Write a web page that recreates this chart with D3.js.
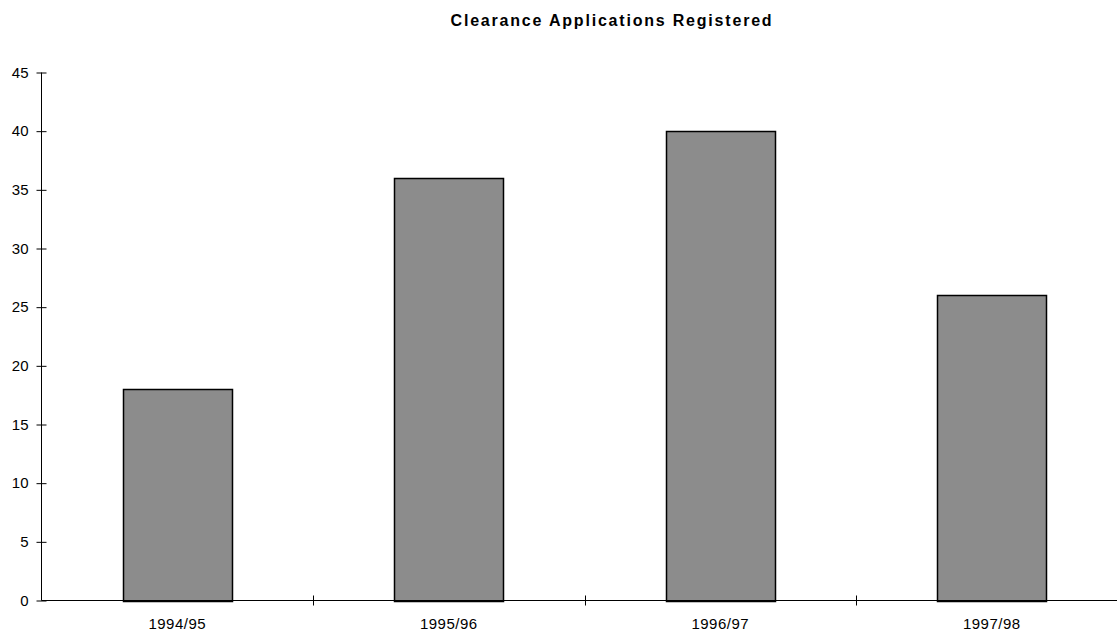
<!DOCTYPE html>
<html><head><meta charset="utf-8">
<script src="https://cdn.jsdelivr.net/npm/d3@7"></script>
<style>body{margin:0;background:#fff}svg{display:block}</style>
</head><body>
<script>
const categories = ["1994/95","1995/96","1996/97","1997/98"];
const values = [18, 36, 40, 26];
const yTicks = [0,5,10,15,20,25,30,35,40,45];
const title = "Clearance Applications Registered";

const W = 1117, H = 633;
const FONT = "Liberation Sans, Arial, sans-serif";
const svg = d3.select("body").append("svg").attr("width", W).attr("height", H);
const x0 = 41.5, x1 = 1127.5, yTop = 72.5, yBot = 600.5;
const x = d3.scaleBand().domain(categories).range([x0, x1]).paddingInner(0.6).paddingOuter(0.3);
const xb = d3.scaleBand().domain(categories).range([x0, x1]);
const y = d3.scaleLinear().domain([0, 45]).range([yBot, yTop]);

svg.append("text").attr("x", 612).attr("y", 26).attr("text-anchor", "middle")
  .attr("font-family", FONT).attr("font-weight", "bold")
  .attr("font-size", 16).attr("letter-spacing", 1.8).text(title);

svg.selectAll("rect.bar").data(values).join("rect").attr("class","bar")
  .attr("x", (d,i) => Math.round(x(categories[i])) + 0.5)
  .attr("y", d => Math.round(y(d)) + 0.5)
  .attr("width", Math.round(x.bandwidth()))
  .attr("height", d => Math.round(yBot) - Math.round(y(d)))
  .attr("fill", "#8c8c8c").attr("stroke", "#000").attr("stroke-width", 1.5);

// y axis
const ya = svg.append("g").attr("transform", `translate(${x0},0)`)
  .call(d3.axisLeft(y).tickValues(yTicks).tickSize(5).tickPadding(8));
ya.select(".domain").remove();
ya.append("line").attr("x1",0).attr("x2",0).attr("y1",yTop).attr("y2",yBot).attr("stroke","#000");
ya.selectAll(".tick line").attr("x1",-5).attr("x2",5).attr("stroke","#000");
ya.selectAll(".tick text").attr("font-family",FONT).attr("font-size",15).attr("fill","#000").attr("x",-13);

// x axis
const xa = svg.append("g");
xa.append("line").attr("x1",x0).attr("x2",x1).attr("y1",yBot).attr("y2",yBot).attr("stroke","#000");
xa.selectAll("line.sep").data(categories.slice(1)).join("line").attr("class","sep")
  .attr("x1", d => Math.round(xb(d))+0.5).attr("x2", d => Math.round(xb(d))+0.5)
  .attr("y1", yBot-5).attr("y2", yBot+5).attr("stroke","#000");
xa.selectAll("text").data(categories).join("text")
  .attr("x", d => xb(d) + xb.bandwidth()/2).attr("y", 629).attr("text-anchor","middle")
  .attr("font-family",FONT).attr("font-size",15).attr("letter-spacing",0.5).text(d => d);
</script>
</body></html>
